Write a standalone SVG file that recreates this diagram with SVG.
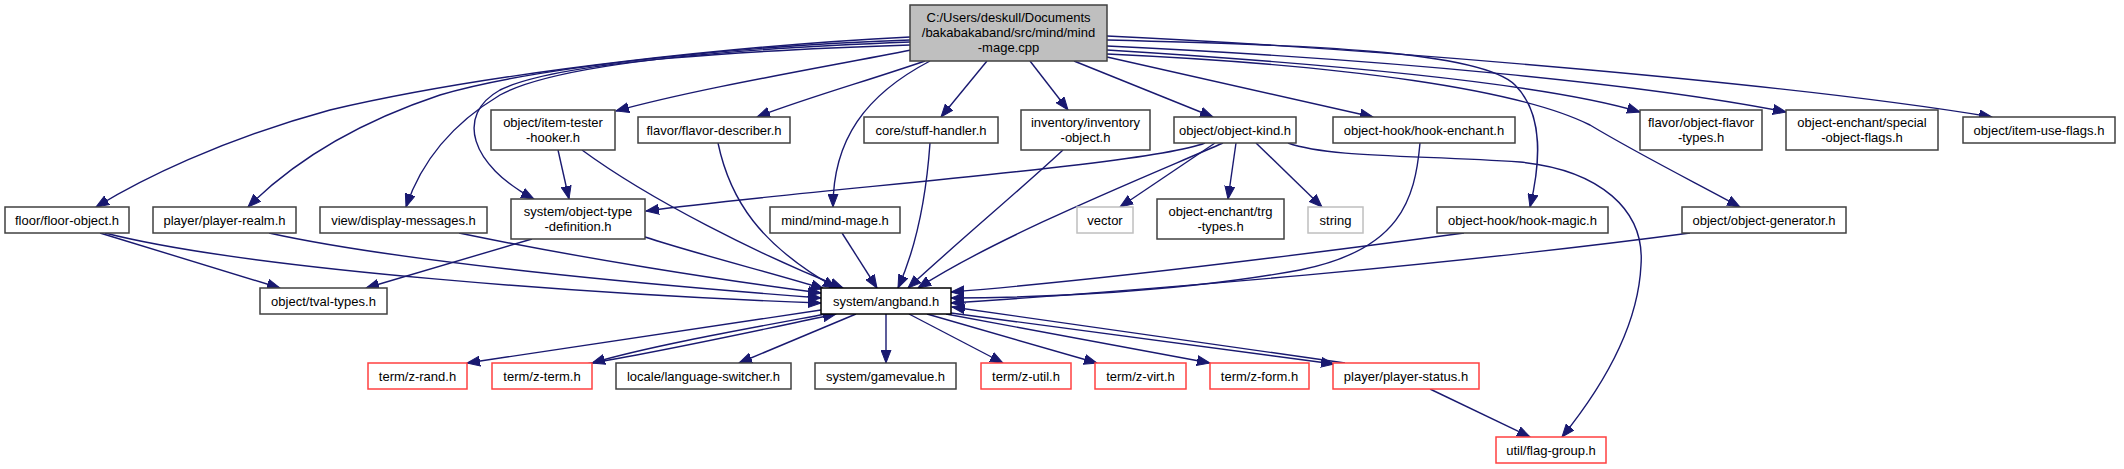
<svg xmlns="http://www.w3.org/2000/svg" width="2124" height="469" viewBox="0 0 2124 469">
<defs>
<style>
.n rect{fill:#fff;stroke:#404040;stroke-width:1.5}
.n.main rect{fill:#bfbfbf}
.n.red rect{stroke:#ff4040}
.n.gray rect{stroke:#bfbfbf}
.n.blk rect{stroke:#000}
.n text{font-family:"Liberation Sans",Arial,sans-serif;font-size:13px;fill:#000;text-anchor:middle}
#edges path{fill:none;stroke:#191970;stroke-width:1.4;marker-end:url(#a)}
</style>
<marker id="a" markerWidth="14" markerHeight="11" refX="13" refY="5.5" orient="auto" markerUnits="userSpaceOnUse"><path d="M0,0.5 L13,5.5 L0,10.5 z" fill="#191970" stroke="#191970" stroke-width="1"/></marker>
</defs>
<rect width="2124" height="469" fill="#fff"/>
<g id="edges">
<path d="M910,37 C750,45 500,70 330,110 C220,140 140,180 96,207"/>
<path d="M910,40 C760,45 540,65 440,95 C350,125 290,165 248,207"/>
<path d="M910,42 C750,48 560,62 500,95 C450,125 420,165 406,207"/>
<path d="M910,45 C760,50 560,60 500,90 C455,115 470,165 534,199"/>
<path d="M911,50 C820,68 700,88 616,111"/>
<path d="M925,61 C870,80 800,100 757,117"/>
<path d="M987,61 L941,117"/>
<path d="M930,61 C865,95 833,140 833,207"/>
<path d="M1030,61 L1068,110"/>
<path d="M1074,61 L1213,117"/>
<path d="M1107,57 L1373,117"/>
<path d="M1107,36 C1400,50 1800,85 1992,117"/>
<path d="M1107,40 C1300,45 1480,50 1515,85 C1545,115 1540,165 1530,207"/>
<path d="M1107,46 C1400,60 1650,85 1786,112"/>
<path d="M1107,50 C1350,65 1550,85 1640,112"/>
<path d="M1107,54 C1350,65 1520,90 1590,125 C1640,155 1700,185 1740,207"/>
<path d="M1205,143 C1150,165 800,190 646,211"/>
<path d="M1223,143 C1150,175 1000,235 918,288"/>
<path d="M1063,150 C1020,190 960,240 908,288"/>
<path d="M930,143 C926,200 915,250 898,288"/>
<path d="M1215,143 L1120,207"/>
<path d="M1236,143 L1228,199"/>
<path d="M1256,143 L1322,207"/>
<path d="M1288,143 C1330,158 1420,155 1520,162 C1600,170 1645,210 1641,265 C1638,330 1600,390 1562,437"/>
<path d="M1420,143 C1415,200 1400,250 1300,270 C1180,292 1040,298 951,298"/>
<path d="M1464,233 C1300,255 1100,280 951,292"/>
<path d="M1690,233 C1450,265 1150,290 951,303"/>
<path d="M105,233 C250,270 600,295 821,303"/>
<path d="M269,233 C400,262 650,285 821,298"/>
<path d="M459,233 C580,258 720,280 821,293"/>
<path d="M645,237 C700,255 780,275 824,289"/>
<path d="M582,150 C650,200 760,255 843,288"/>
<path d="M718,143 C730,200 760,245 836,288"/>
<path d="M842,233 L877,288"/>
<path d="M532,239 L366,288"/>
<path d="M100,233 L280,288"/>
<path d="M558,150 L569,199"/>
<path d="M821,310 L467,363"/>
<path d="M826,314 C740,330 650,346 592,363"/>
<path d="M586,364 C660,352 760,330 836,314"/>
<path d="M856,314 L739,363"/>
<path d="M886,314 L886,363"/>
<path d="M909,314 L1003,363"/>
<path d="M927,314 L1097,363"/>
<path d="M946,314 L1210,363"/>
<path d="M951,313 L1334,364"/>
<path d="M1345,363 L952,307"/>
<path d="M1430,389 L1530,437"/>
</g>
<g id="n_main" class="n main"><rect x="910" y="5" width="197" height="56"/><text x="1008.5" y="21.5">C:/Users/deskull/Documents</text><text x="1008.5" y="36.5">/bakabakaband/src/mind/mind</text><text x="1008.5" y="51.5">-mage.cpp</text></g>
<g id="n_item_tester" class="n"><rect x="491" y="110" width="124" height="40"/><text x="553" y="126.5">object/item-tester</text><text x="553" y="141.5">-hooker.h</text></g>
<g id="n_flavor_describer" class="n"><rect x="638" y="117" width="152" height="26"/><text x="714" y="134.5">flavor/flavor-describer.h</text></g>
<g id="n_stuff_handler" class="n"><rect x="864" y="117" width="134" height="26"/><text x="931" y="134.5">core/stuff-handler.h</text></g>
<g id="n_inventory_object" class="n"><rect x="1021" y="110" width="129" height="40"/><text x="1085.5" y="126.5">inventory/inventory</text><text x="1085.5" y="141.5">-object.h</text></g>
<g id="n_object_kind" class="n"><rect x="1174" y="117" width="122" height="26"/><text x="1235" y="134.5">object/object-kind.h</text></g>
<g id="n_hook_enchant" class="n"><rect x="1333" y="117" width="182" height="26"/><text x="1424" y="134.5">object-hook/hook-enchant.h</text></g>
<g id="n_flavor_types" class="n"><rect x="1640" y="110" width="122" height="40"/><text x="1701" y="126.5">flavor/object-flavor</text><text x="1701" y="141.5">-types.h</text></g>
<g id="n_special_flags" class="n"><rect x="1786" y="110" width="152" height="40"/><text x="1862" y="126.5">object-enchant/special</text><text x="1862" y="141.5">-object-flags.h</text></g>
<g id="n_item_use_flags" class="n"><rect x="1963" y="117" width="152" height="26"/><text x="2039" y="134.5">object/item-use-flags.h</text></g>
<g id="n_floor_object" class="n"><rect x="5" y="207" width="124" height="26"/><text x="67" y="224.5">floor/floor-object.h</text></g>
<g id="n_player_realm" class="n"><rect x="153" y="207" width="143" height="26"/><text x="224.5" y="224.5">player/player-realm.h</text></g>
<g id="n_display_messages" class="n"><rect x="320" y="207" width="167" height="26"/><text x="403.5" y="224.5">view/display-messages.h</text></g>
<g id="n_object_type_def" class="n"><rect x="511" y="199" width="134" height="40"/><text x="578" y="215.5">system/object-type</text><text x="578" y="230.5">-definition.h</text></g>
<g id="n_mind_mage" class="n"><rect x="770" y="207" width="130" height="26"/><text x="835" y="224.5">mind/mind-mage.h</text></g>
<g id="n_vector" class="n gray"><rect x="1077" y="207" width="56" height="26"/><text x="1105" y="224.5">vector</text></g>
<g id="n_trg_types" class="n"><rect x="1157" y="199" width="127" height="40"/><text x="1220.5" y="215.5">object-enchant/trg</text><text x="1220.5" y="230.5">-types.h</text></g>
<g id="n_string" class="n gray"><rect x="1308" y="207" width="55" height="26"/><text x="1335.5" y="224.5">string</text></g>
<g id="n_hook_magic" class="n"><rect x="1437" y="207" width="171" height="26"/><text x="1522.5" y="224.5">object-hook/hook-magic.h</text></g>
<g id="n_object_generator" class="n"><rect x="1682" y="207" width="164" height="26"/><text x="1764" y="224.5">object/object-generator.h</text></g>
<g id="n_tval_types" class="n"><rect x="260" y="288" width="127" height="26"/><text x="323.5" y="305.5">object/tval-types.h</text></g>
<g id="n_angband" class="n blk"><rect x="821" y="288" width="130" height="26"/><text x="886" y="305.5">system/angband.h</text></g>
<g id="n_z_rand" class="n red"><rect x="368" y="363" width="99" height="26"/><text x="417.5" y="380.5">term/z-rand.h</text></g>
<g id="n_z_term" class="n red"><rect x="492" y="363" width="100" height="26"/><text x="542" y="380.5">term/z-term.h</text></g>
<g id="n_language_switcher" class="n"><rect x="616" y="363" width="175" height="26"/><text x="703.5" y="380.5">locale/language-switcher.h</text></g>
<g id="n_gamevalue" class="n"><rect x="815" y="363" width="141" height="26"/><text x="885.5" y="380.5">system/gamevalue.h</text></g>
<g id="n_z_util" class="n red"><rect x="981" y="363" width="90" height="26"/><text x="1026" y="380.5">term/z-util.h</text></g>
<g id="n_z_virt" class="n red"><rect x="1095" y="363" width="91" height="26"/><text x="1140.5" y="380.5">term/z-virt.h</text></g>
<g id="n_z_form" class="n red"><rect x="1210" y="363" width="99" height="26"/><text x="1259.5" y="380.5">term/z-form.h</text></g>
<g id="n_player_status" class="n red"><rect x="1333" y="363" width="146" height="26"/><text x="1406" y="380.5">player/player-status.h</text></g>
<g id="n_flag_group" class="n red"><rect x="1496" y="437" width="110" height="26"/><text x="1551" y="454.5">util/flag-group.h</text></g>
</svg>
